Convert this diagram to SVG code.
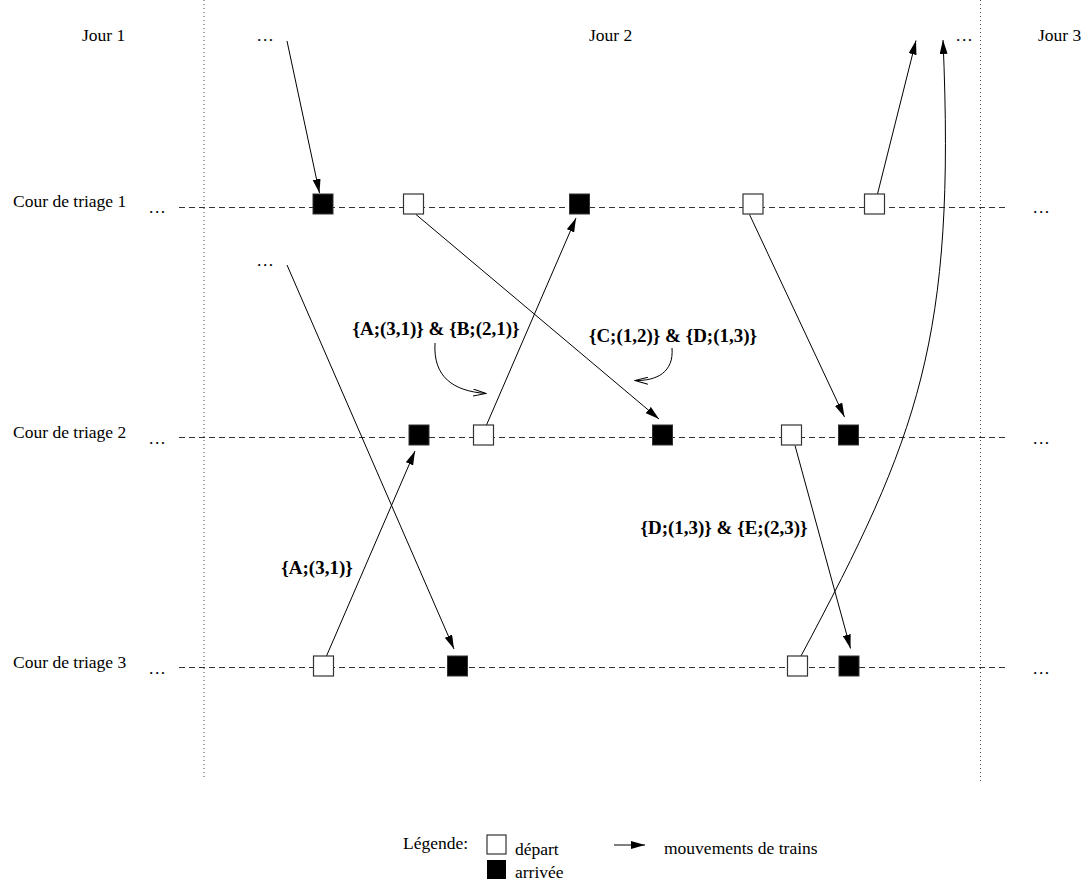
<svg xmlns="http://www.w3.org/2000/svg" width="1088" height="884" viewBox="0 0 1088 884">
<defs>
<style>
.t{font-family:"Liberation Serif","Times New Roman",serif;font-size:17.5px;fill:#000}
.dots{font-family:"Liberation Serif","Times New Roman",serif;font-size:17.5px;fill:#000;letter-spacing:1.5px}
.b{font-family:"Liberation Serif","Times New Roman",serif;font-size:19px;font-weight:bold;fill:#000}
.track{stroke:#333;stroke-width:1;stroke-dasharray:6 4;fill:none}
.day{stroke:#444;stroke-width:1;stroke-dasharray:1 3;fill:none}
.dep{fill:#fff;stroke:#333;stroke-width:1.2}
.arr{fill:#000;stroke:#333;stroke-width:1}
.mv{stroke:#000;stroke-width:1;fill:none;marker-end:url(#ah)}
.note{stroke:#000;stroke-width:1;fill:none;marker-end:url(#oh)}
</style>
<marker id="ah" viewBox="0 0 14 8" refX="14" refY="4" markerWidth="14" markerHeight="8" markerUnits="userSpaceOnUse" orient="auto"><path d="M0,0 L14,4 L0,8 z" fill="#000"/></marker>
<marker id="oh" viewBox="0 0 14 8" refX="13" refY="4" markerWidth="14" markerHeight="8" markerUnits="userSpaceOnUse" orient="auto"><path d="M0,0.5 L13,4 L0,7.5" fill="none" stroke="#000" stroke-width="1"/></marker>
<rect id="sq" width="20" height="20"/>
</defs>
<rect width="1088" height="884" fill="#fff"/>

<g id="grid">
<line class="day" x1="204" y1="0" x2="204" y2="780"/>
<line class="day" x1="980.5" y1="0" x2="980.5" y2="784"/>
<line class="track" x1="179" y1="207.5" x2="1005" y2="207.5"/>
<line class="track" x1="179" y1="437.5" x2="1005" y2="437.5"/>
<line class="track" x1="179" y1="667.5" x2="1005" y2="667.5"/>
</g>

<g id="labels">
<text class="t" x="82" y="41">Jour 1</text>
<text class="t" x="589" y="41">Jour 2</text>
<text class="t" x="1038" y="41">Jour 3</text>
<text class="t" x="13" y="207">Cour de triage 1</text>
<text class="t" x="13" y="438">Cour de triage 2</text>
<text class="t" x="13" y="668">Cour de triage 3</text>
<text class="dots" x="149" y="213">...</text>
<text class="dots" x="149" y="444">...</text>
<text class="dots" x="149" y="674">...</text>
<text class="dots" x="1033" y="213">...</text>
<text class="dots" x="1033" y="444">...</text>
<text class="dots" x="1033" y="674">...</text>
<text class="dots" x="257" y="41">...</text>
<text class="dots" x="257" y="266">...</text>
<text class="dots" x="956" y="41">...</text>
</g>

<g id="connectors">
<line class="mv" x1="287" y1="41" x2="319.5" y2="193"/>
<line class="mv" x1="416" y1="214.5" x2="659" y2="419"/>
<line class="mv" x1="287" y1="265" x2="454" y2="649"/>
<line class="mv" x1="486.5" y1="425" x2="576" y2="218"/>
<line class="mv" x1="749.5" y1="214.5" x2="844.5" y2="417"/>
<line class="mv" x1="877.5" y1="194" x2="916" y2="40.5"/>
<line class="mv" x1="795" y1="445.5" x2="850.5" y2="648.5"/>
<line class="mv" x1="326.5" y1="656" x2="415" y2="451"/>
<path class="mv" d="M801,656 C918.5,436 956,340 943,40"/>
<path class="note" d="M435,343 C433,377 453,391 486,393.5"/>
<path class="note" d="M672,348 C674,372 657,381 635,380.5"/>
</g>

<g id="notes">
<text class="b" x="436" y="335" text-anchor="middle">{A;(3,1)} &amp; {B;(2,1)}</text>
<text class="b" x="673" y="342" text-anchor="middle">{C;(1,2)} &amp; {D;(1,3)}</text>
<text class="b" x="724" y="534" text-anchor="middle">{D;(1,3)} &amp; {E;(2,3)}</text>
<text class="b" x="317" y="573.5" text-anchor="middle">{A;(3,1)}</text>
</g>

<g id="t1-a1"><use href="#sq" class="arr" x="313" y="194"/></g>
<g id="t1-d1"><use href="#sq" class="dep" x="403.5" y="194"/></g>
<g id="t1-a2"><use href="#sq" class="arr" x="569.5" y="194"/></g>
<g id="t1-d2"><use href="#sq" class="dep" x="743" y="194"/></g>
<g id="t1-d3"><use href="#sq" class="dep" x="864.5" y="194"/></g>

<g id="t2-a1"><use href="#sq" class="arr" x="409" y="425"/></g>
<g id="t2-d1"><use href="#sq" class="dep" x="473.5" y="425"/></g>
<g id="t2-a2"><use href="#sq" class="arr" x="652.5" y="425"/></g>
<g id="t2-d2"><use href="#sq" class="dep" x="781.5" y="425"/></g>
<g id="t2-a3"><use href="#sq" class="arr" x="838.5" y="425"/></g>

<g id="t3-d1"><use href="#sq" class="dep" x="313.5" y="656"/></g>
<g id="t3-a1"><use href="#sq" class="arr" x="447.5" y="656"/></g>
<g id="t3-d2"><use href="#sq" class="dep" x="787.5" y="656"/></g>
<g id="t3-a2"><use href="#sq" class="arr" x="839" y="656"/></g>

<g id="legend">
<text class="t" x="403" y="849">Légende:</text>
<rect x="487" y="835" width="19" height="19" class="dep"/>
<rect x="487" y="860" width="19" height="19" fill="#000"/>
<text class="t" x="515" y="855">départ</text>
<text class="t" x="515" y="878">arrivée</text>
<line class="mv" x1="614" y1="845" x2="645" y2="845"/>
<text class="t" x="664" y="854">mouvements de trains</text>
</g>
</svg>
